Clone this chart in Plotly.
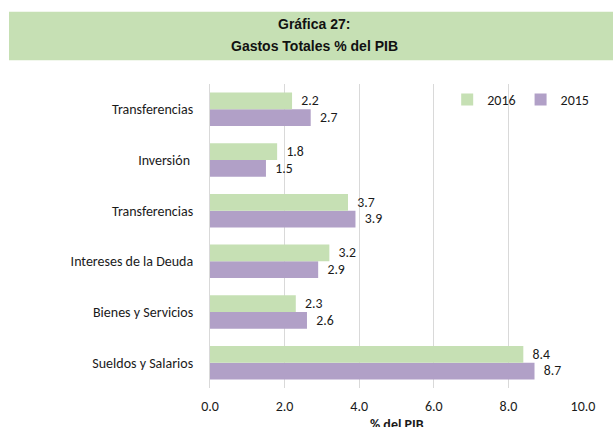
import plotly.graph_objects as go

categories = ["Sueldos y Salarios", "Bienes y Servicios", "Intereses de la Deuda",
              "Transferencias", "Inversión ", "Transferencias"]
values_2016 = [8.4, 2.3, 3.2, 3.7, 1.8, 2.2]
values_2015 = [8.7, 2.6, 2.9, 3.9, 1.5, 2.7]
x_ticks = [0, 2, 4, 6, 8, 10]

positions = list(range(len(categories)))
GREEN = "#c6e0b4"
PURPLE = "#b1a0c7"
FONT = "Calibri, Carlito, Lato, sans-serif"
TXT = "#1a1a1a"
PAD = "\u00a0\u00a0"

fig = go.Figure()
fig.add_trace(go.Bar(
    y=positions, x=values_2015, orientation="h", name="2015",
    marker=dict(color=PURPLE, line=dict(width=0)),
    text=[PAD + f"{v:.1f}" for v in values_2015], textposition="outside",
    textfont=dict(family=FONT, size=14, color=TXT), cliponaxis=False,
))
fig.add_trace(go.Bar(
    y=positions, x=values_2016, orientation="h", name="2016",
    marker=dict(color=GREEN, line=dict(width=0)),
    text=[PAD + f"{v:.1f}" for v in values_2016], textposition="outside",
    textfont=dict(family=FONT, size=14, color=TXT), cliponaxis=False,
))

fig.update_layout(
    width=613, height=427,
    margin=dict(l=210, r=30, t=84, b=36),
    paper_bgcolor="white", plot_bgcolor="white",
    barmode="group", bargap=0.34, bargroupgap=0,
    font=dict(family=FONT, size=14, color=TXT),
    showlegend=True,
    legend=dict(orientation="h", x=1.03, xanchor="right", y=1.0, yanchor="top",
                traceorder="reversed", font=dict(family=FONT, size=14, color=TXT),
                bgcolor="rgba(0,0,0,0)", itemwidth=30),
    xaxis=dict(range=[0, 10], tickvals=x_ticks, tickformat=".1f",
               showgrid=True, gridcolor="#d9d9d9", gridwidth=1,
               zeroline=False, showline=False, ticks="",
               ticklabelstandoff=8,
               tickfont=dict(family=FONT, size=14, color=TXT)),
    yaxis=dict(range=[-0.5, len(categories) - 0.5], tickvals=positions, ticktext=categories,
               showgrid=False, zeroline=False, showline=True, linecolor="#d9d9d9", linewidth=1,
               ticks="", ticklabelstandoff=13,
               tickfont=dict(family=FONT, size=14, color=TXT)),
    shapes=[dict(type="rect", xref="paper", yref="paper",
                 x0=(9 - 210) / 373, x1=(613 - 210) / 373,
                 y0=(391 - 60) / 307, y1=(391 - 11) / 307,
                 fillcolor="#c6e0b4", line=dict(width=0), layer="below")],
    annotations=[
        dict(text="<b>Gráfica 27:</b>", xref="paper", yref="paper",
             x=(314 - 210) / 373, y=(391 - 23) / 307, xanchor="center", yanchor="middle",
             showarrow=False,
             font=dict(family="Liberation Sans Narrow, Arial Narrow, Liberation Sans", size=14, color="#111")),
        dict(text="<b>Gastos Totales % del PIB</b>", xref="paper", yref="paper",
             x=(314 - 210) / 373, y=(391 - 46) / 307, xanchor="center", yanchor="middle",
             showarrow=False,
             font=dict(family="Liberation Sans Narrow, Arial Narrow, Liberation Sans", size=14, color="#111")),
        dict(text="<b>% del PIB</b>", xref="paper", yref="paper",
             x=0.5, y=(391 - 417) / 307, xanchor="center", yanchor="top",
             showarrow=False, font=dict(family=FONT, size=14, color=TXT)),
    ],
)

fig.write_html("out.html", config={"displayModeBar": False},
               post_script="document.body.style.margin='0';")
